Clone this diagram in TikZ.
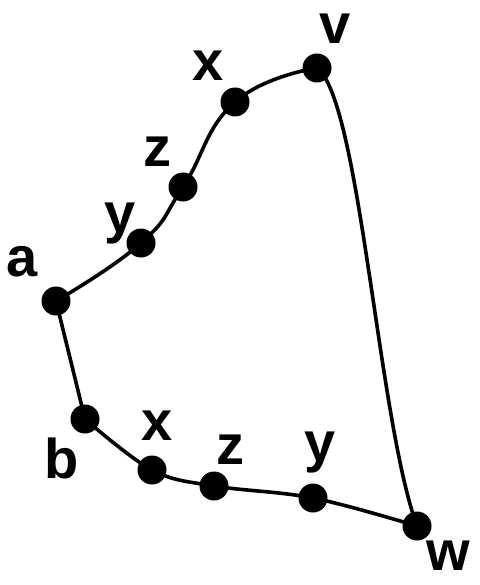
\documentclass[tikz,border=0pt]{standalone}
\usepackage{fontspec}
\setmainfont{Liberation Sans}
\begin{document}
\begin{tikzpicture}[x=1pt,y=-1pt,
  dot/.style={circle,fill=black,inner sep=0pt,minimum size=29pt},
  edge/.style={line width=3.6pt,line join=round,line cap=round},
  lab/.style={inner sep=0pt,anchor=center,font=\fontsize{56}{58}\selectfont\bfseries}]
\useasboundingbox (0,0) rectangle (479,585);
% vertex positions
\coordinate (pv) at (317,68);
\coordinate (px1) at (235,102);
\coordinate (pz1) at (183,187);
\coordinate (py1) at (141,243);
\coordinate (pa) at (56,301);
\coordinate (pb) at (85,419);
\coordinate (px2) at (152,470);
\coordinate (pz2) at (214,486);
\coordinate (py2) at (313,498);
\coordinate (pw) at (417,526);
% edges
\draw[edge] plot[smooth,tension=0.8] coordinates {(pa) (py1) (pz1) (px1) (pv)};
\draw[edge] (pv) .. controls (360,100) and (378,420) .. (pw);
\draw[edge] (pa) -- (pb);
\draw[edge] plot[smooth,tension=0.6] coordinates {(pb) (px2) (pz2) (py2) (pw)};
% dots
\node[dot] (v) at (pv) {};
\node[dot] (x1) at (px1) {};
\node[dot] (z1) at (pz1) {};
\node[dot] (y1) at (py1) {};
\node[dot] (a) at (pa) {};
\node[dot] (b) at (pb) {};
\node[dot] (x2) at (px2) {};
\node[dot] (z2) at (pz2) {};
\node[dot] (y2) at (py2) {};
\node[dot] (w) at (pw) {};
% labels
\node[lab] (lv) at (335,29) {v};
\node[lab] (lx1) at (208,66) {x};
\node[lab] (lz1) at (157,152) {z};
\node[lab] (ly1) at (120,224) {y};
\node[lab] (la) at (22,262) {a};
\node[lab] (lb) at (62,458) {b};
\node[lab] (lx2) at (157,426) {x};
\node[lab] (lz2) at (230,450) {z};
\node[lab] (ly2) at (320,453) {y};
\node[lab] (lw) at (448,556) {w};
\end{tikzpicture}
\end{document}
